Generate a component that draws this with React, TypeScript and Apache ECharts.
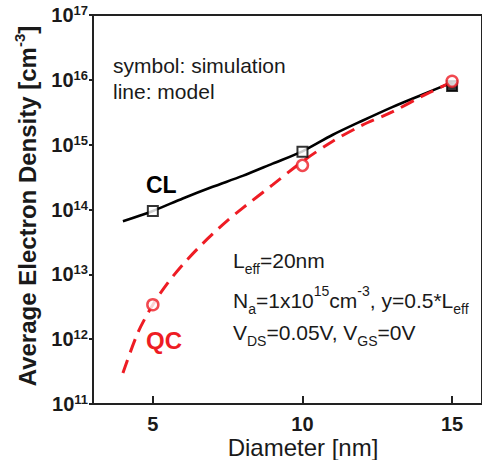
import React, { useEffect, useRef } from "react";
import * as echarts from "echarts";

const FONT = "'Liberation Sans', Arial, sans-serif";
const RED = "#ee1c24";
const INK = "#1a1a1a";

// model curves
const clModelX = [4, 5, 6, 7, 8, 9, 10, 11, 12, 13, 14, 15];
const clModelY = [6.6e13, 9.5e13, 1.48e14, 2.24e14, 3.3e14, 5.1e14, 7.9e14, 1.41e15, 2.34e15, 3.8e15, 5.9e15, 9.1e15];
const qcModelX = [4, 4.5, 5, 5.5, 6, 6.5, 7, 7.5, 8, 9, 10, 11, 12, 13, 14, 15];
const qcModelY = [3.0e11, 1.26e12, 3.4e12, 7.4e12, 1.41e13, 2.5e13, 4.2e13, 6.8e13, 1.05e14, 2.4e14, 5.5e14, 1.12e15, 2.0e15, 3.2e15, 5.6e15, 9.3e15];

// simulation symbols
const simX = [5, 10, 15];
const clSim = [9.5e13, 7.8e14, 8.0e15];
const qcSim = [3.4e12, 4.8e14, 9.5e15];

const xTicks = [5, 10, 15];

const zip = (xs: number[], ys: number[]) => xs.map((x, i) => [x, ys[i]]);

export default function App() {
  const ref = useRef<HTMLDivElement>(null);
  useEffect(() => {
    const chart = echarts.init(ref.current!, null, { renderer: "svg" });
    const base = { fontFamily: FONT, fontSize: 21, lineHeight: 32, fill: INK, verticalAlign: "middle" };
    const sup = { fontFamily: FONT, fontSize: 14, lineHeight: 14, fill: INK, verticalAlign: "top" };
    const sub = { fontFamily: FONT, fontSize: 14, lineHeight: 14, fill: INK, verticalAlign: "bottom" };
    const richAnno = { n: base, p: sup, b: sub };
    chart.setOption({
      animation: false,
      grid: {
        left: 93,
        top: 15,
        right: -5,
        bottom: 56,
        show: true,
        borderColor: "#222",
        borderWidth: 2,
        backgroundColor: "transparent",
      },
      xAxis: {
        type: "value",
        min: 3,
        max: 16,
        axisLine: { show: true, lineStyle: { color: "#222", width: 2 } },
        axisTick: { show: true, inside: true, length: 8, lineStyle: { color: "#222", width: 2 }, customValues: xTicks },
        axisLabel: {
          customValues: xTicks,
          fontFamily: FONT,
          fontWeight: "bold",
          fontSize: 20,
          color: INK,
          margin: 10,
        },
        splitLine: { show: false },
      },
      yAxis: {
        type: "log",
        logBase: 10,
        min: 1e11,
        max: 1e17,
        interval: 1,
        axisLine: { show: true, lineStyle: { color: "#222", width: 2 } },
        axisTick: { show: true, inside: false, length: 4, lineStyle: { color: "#222", width: 2 } },
        axisLabel: {
          margin: 5,
          fontFamily: FONT,
          fontWeight: "bold",
          fontSize: 20,
          color: INK,
          formatter: (v: number) => `{b|10}{s|${Math.round(Math.log10(v))}}`,
          rich: {
            b: { fontFamily: FONT, fontWeight: "bold", fontSize: 20, lineHeight: 22, color: INK, verticalAlign: "middle" },
            s: { fontFamily: FONT, fontWeight: "bold", fontSize: 13, lineHeight: 13, color: INK, verticalAlign: "top" },
          },
        },
        splitLine: { show: false },
      },
      series: [
        {
          type: "line",
          data: zip(clModelX, clModelY),
          smooth: 0.3,
          showSymbol: false,
          lineStyle: { color: "#000", width: 2.6 },
          z: 2,
        },
        {
          type: "line",
          data: zip(qcModelX, qcModelY),
          smooth: 0.3,
          showSymbol: false,
          lineStyle: { color: RED, width: 3, type: [14, 8] },
          z: 3,
        },
        {
          type: "scatter",
          data: zip(simX, clSim).map((d, i) => ({
            value: d,
            itemStyle: { color: i === 2 ? "#000" : "#fff" },
          })),
          symbol: "rect",
          symbolSize: 10,
          itemStyle: { borderColor: "#000", borderWidth: 2 },
          z: 4,
        },
        {
          type: "scatter",
          data: zip(simX, qcSim),
          symbol: "circle",
          symbolSize: 11,
          itemStyle: { color: "#fff", borderColor: RED, borderWidth: 2.5 },
          z: 5,
        },
      ],
      graphic: [
        {
          type: "text",
          x: 27,
          y: 206,
          rotation: Math.PI / 2,
          style: {
            text: "{t|Average Electron Density [cm}{s|-3}{t|]}",
            align: "center",
            verticalAlign: "middle",
            rich: {
              t: { fontFamily: FONT, fontWeight: "bold", fontSize: 24, lineHeight: 30, fill: INK, verticalAlign: "middle" },
              s: { fontFamily: FONT, fontWeight: "bold", fontSize: 15, lineHeight: 15, fill: INK, verticalAlign: "top" },
            },
          },
        },
        {
          type: "text",
          x: 303,
          y: 447,
          style: {
            text: "Diameter [nm]",
            font: `24px ${FONT}`,
            fill: INK,
            align: "center",
            verticalAlign: "middle",
          },
        },
        {
          type: "text",
          x: 113,
          y: 65,
          style: { text: "symbol: simulation", font: `21px ${FONT}`, fill: INK, verticalAlign: "middle" },
        },
        {
          type: "text",
          x: 113,
          y: 91,
          style: { text: "line: model", font: `21px ${FONT}`, fill: INK, verticalAlign: "middle" },
        },
        {
          type: "text",
          x: 146,
          y: 185,
          style: { text: "CL", font: `bold 23px ${FONT}`, fill: "#000", verticalAlign: "middle" },
        },
        {
          type: "text",
          x: 146,
          y: 340,
          style: { text: "QC", font: `bold 24px ${FONT}`, fill: RED, verticalAlign: "middle" },
        },
        {
          type: "text",
          x: 233,
          y: 260,
          style: { text: "{n|L}{b|eff}{n|=20nm}", verticalAlign: "middle", rich: richAnno },
        },
        {
          type: "text",
          x: 233,
          y: 300,
          style: {
            text: "{n|N}{b|a}{n|=1x10}{p|15}{n|cm}{p|-3}{n|, y=0.5*L}{b|eff}",
            verticalAlign: "middle",
            rich: richAnno,
          },
        },
        {
          type: "text",
          x: 233,
          y: 332,
          style: {
            text: "{n|V}{b|DS}{n|=0.05V, V}{b|GS}{n|=0V}",
            verticalAlign: "middle",
            rich: richAnno,
          },
        },
      ],
    });
    return () => chart.dispose();
  }, []);
  return (
    <div
      ref={ref}
      style={{ position: "absolute", left: 0, top: 0, width: 482, height: 460, background: "#fff" }}
    />
  );
}
